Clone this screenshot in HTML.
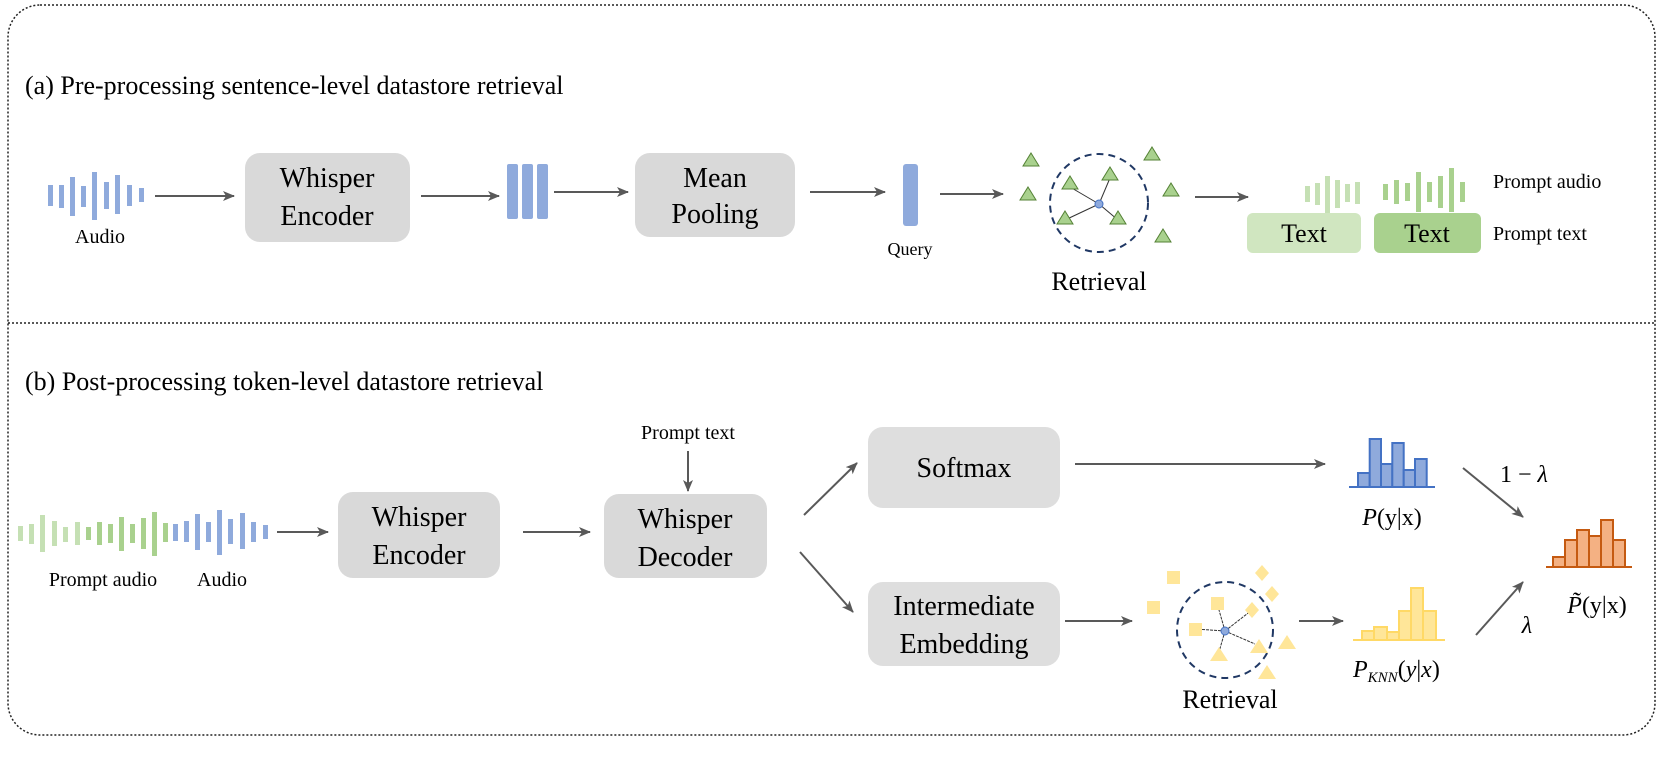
<!DOCTYPE html>
<html><head><meta charset="utf-8"><style>
html,body{margin:0;padding:0;background:#fff;}
svg{display:block;}
text{font-family:"Liberation Serif",serif;fill:#000;}
</style></head><body>
<svg width="1661" height="759" viewBox="0 0 1661 759" xmlns="http://www.w3.org/2000/svg">
<defs>
<marker id="ah" markerWidth="12" markerHeight="12" refX="11" refY="6" orient="auto" markerUnits="userSpaceOnUse">
<path d="M0,1 L12,6 L0,11 L3,6 Z" fill="#595959"/>
</marker>
</defs>
<rect x="8" y="5" width="1647" height="730" rx="32" fill="none" stroke="#222" stroke-width="1.5" stroke-dasharray="2,2"/>
<line x1="8" y1="323" x2="1655" y2="323" stroke="#222" stroke-width="1.5" stroke-dasharray="2,2"/>

<g stroke="#595959" stroke-width="2" marker-end="url(#ah)" fill="none">
<line x1="155" y1="196" x2="234" y2="196"/>
<line x1="421" y1="196" x2="499" y2="196"/>
<line x1="554" y1="192" x2="628" y2="192"/>
<line x1="810" y1="192" x2="885" y2="192"/>
<line x1="940" y1="194" x2="1003" y2="194"/>
<line x1="1195" y1="197" x2="1248" y2="197"/>
<line x1="277" y1="532" x2="328" y2="532"/>
<line x1="523" y1="532" x2="590" y2="532"/>
<line x1="688" y1="451" x2="688" y2="491"/>
<line x1="804" y1="515" x2="857" y2="463"/>
<line x1="800" y1="552" x2="853" y2="612"/>
<line x1="1075" y1="464" x2="1325" y2="464"/>
<line x1="1065" y1="621" x2="1132" y2="621"/>
<line x1="1299" y1="621" x2="1343" y2="621"/>
<line x1="1463" y1="468" x2="1523" y2="517"/>
<line x1="1476" y1="635" x2="1523" y2="582"/>
</g>

<text x="25" y="94" font-size="26">(a) Pre-processing sentence-level datastore retrieval</text>
<text x="25" y="390" font-size="26">(b) Post-processing token-level datastore retrieval</text>

<g fill="#8faadc">
<rect x="48" y="185" width="5" height="21"/>
<rect x="59" y="185" width="5" height="23"/>
<rect x="70" y="177" width="5" height="39"/>
<rect x="81" y="186" width="5" height="21"/>
<rect x="92" y="172" width="5" height="48"/>
<rect x="104" y="182" width="5" height="27"/>
<rect x="115" y="175" width="5" height="39"/>
<rect x="127" y="185" width="5" height="21"/>
<rect x="139" y="188" width="5" height="14"/>
</g>
<text x="100" y="243" font-size="20" text-anchor="middle">Audio</text>

<rect x="245" y="153" width="165" height="89" rx="15" fill="#d9d9d9"/>
<text x="327" y="187" font-size="28" text-anchor="middle">Whisper</text>
<text x="327" y="225" font-size="28" text-anchor="middle">Encoder</text>

<g fill="#8faadc">
<rect x="507" y="164" width="11" height="55" rx="2"/>
<rect x="522" y="164" width="11" height="55" rx="2"/>
<rect x="537" y="164" width="11" height="55" rx="2"/>
</g>

<rect x="635" y="153" width="160" height="84" rx="15" fill="#d9d9d9"/>
<text x="715" y="187" font-size="28" text-anchor="middle">Mean</text>
<text x="715" y="223" font-size="28" text-anchor="middle">Pooling</text>

<rect x="903" y="164" width="15" height="62" rx="3" fill="#8faadc"/>
<text x="910" y="255" font-size="18" text-anchor="middle">Query</text>

<circle cx="1099" cy="203" r="49" fill="none" stroke="#203864" stroke-width="2" stroke-dasharray="7,5"/>
<g stroke="#333" stroke-width="1">
<line x1="1099" y1="204" x2="1070" y2="187"/>
<line x1="1099" y1="204" x2="1110" y2="178"/>
<line x1="1099" y1="204" x2="1065" y2="220"/>
<line x1="1099" y1="204" x2="1118" y2="220"/>
</g>
<g fill="#a9d18e" stroke="#548235" stroke-width="1">
<path d="M1031,153 l8,13 h-16 z"/>
<path d="M1028,187 l8,13 h-16 z"/>
<path d="M1152,147 l8,13 h-16 z"/>
<path d="M1171,183 l8,13 h-16 z"/>
<path d="M1163,229 l8,13 h-16 z"/>
<path d="M1070,176 l8,13 h-16 z"/>
<path d="M1110,167 l8,13 h-16 z"/>
<path d="M1065,211 l8,13 h-16 z"/>
<path d="M1118,211 l8,13 h-16 z"/>
</g>
<circle cx="1099" cy="204" r="4" fill="#8faadc" stroke="#4472c4"/>
<text x="1099" y="290" font-size="26" text-anchor="middle">Retrieval</text>

<g fill="#c5e0b4">
<rect x="1305" y="186" width="5" height="16"/>
<rect x="1315" y="183" width="5" height="22"/>
<rect x="1325" y="176" width="5" height="38"/>
<rect x="1335" y="180" width="5" height="28"/>
<rect x="1345" y="184" width="5" height="18"/>
<rect x="1355" y="182" width="5" height="22"/>
</g>
<rect x="1247" y="213" width="114" height="40" rx="6" fill="#d0e6c0"/>
<text x="1304" y="242" font-size="26" text-anchor="middle">Text</text>
<g fill="#a9d18e">
<rect x="1383" y="184" width="5" height="16"/>
<rect x="1394" y="180" width="5" height="24"/>
<rect x="1405" y="183" width="5" height="18"/>
<rect x="1416" y="172" width="5" height="40"/>
<rect x="1427" y="182" width="5" height="20"/>
<rect x="1438" y="176" width="5" height="32"/>
<rect x="1449" y="168" width="5" height="44"/>
<rect x="1460" y="182" width="5" height="20"/>
</g>
<rect x="1374" y="213" width="107" height="40" rx="6" fill="#a9d18e"/>
<text x="1427" y="242" font-size="26" text-anchor="middle">Text</text>
<text x="1493" y="188" font-size="20">Prompt audio</text>
<text x="1493" y="240" font-size="20">Prompt text</text>

<g>
<rect x="18" y="526" width="5" height="15" fill="#c5e0b4"/>
<rect x="29" y="524" width="5" height="20" fill="#c5e0b4"/>
<rect x="40" y="515" width="5" height="37" fill="#c5e0b4"/>
<rect x="52" y="521" width="5" height="25" fill="#c5e0b4"/>
<rect x="63" y="527" width="5" height="15" fill="#c5e0b4"/>
<rect x="75" y="522" width="5" height="23" fill="#c5e0b4"/>
<rect x="86" y="527" width="5" height="13" fill="#a9d18e"/>
<rect x="97" y="522" width="5" height="23" fill="#a9d18e"/>
<rect x="108" y="524" width="5" height="19" fill="#a9d18e"/>
<rect x="119" y="517" width="5" height="34" fill="#a9d18e"/>
<rect x="130" y="524" width="5" height="19" fill="#a9d18e"/>
<rect x="141" y="518" width="5" height="31" fill="#a9d18e"/>
<rect x="152" y="512" width="5" height="44" fill="#a9d18e"/>
<rect x="163" y="523" width="5" height="19" fill="#a9d18e"/>
<rect x="173" y="524" width="5" height="17" fill="#8faadc"/>
<rect x="184" y="521" width="5" height="21" fill="#8faadc"/>
<rect x="195" y="514" width="5" height="36" fill="#8faadc"/>
<rect x="206" y="522" width="5" height="20" fill="#8faadc"/>
<rect x="217" y="510" width="5" height="45" fill="#8faadc"/>
<rect x="228" y="519" width="5" height="25" fill="#8faadc"/>
<rect x="240" y="513" width="5" height="36" fill="#8faadc"/>
<rect x="251" y="522" width="5" height="20" fill="#8faadc"/>
<rect x="263" y="525" width="5" height="14" fill="#8faadc"/>
</g>
<text x="103" y="586" font-size="20" text-anchor="middle">Prompt audio</text>
<text x="222" y="586" font-size="20" text-anchor="middle">Audio</text>

<rect x="338" y="492" width="162" height="86" rx="15" fill="#d9d9d9"/>
<text x="419" y="526" font-size="28" text-anchor="middle">Whisper</text>
<text x="419" y="564" font-size="28" text-anchor="middle">Encoder</text>

<text x="688" y="439" font-size="20" text-anchor="middle">Prompt text</text>
<rect x="604" y="494" width="163" height="84" rx="15" fill="#d9d9d9"/>
<text x="685" y="528" font-size="28" text-anchor="middle">Whisper</text>
<text x="685" y="566" font-size="28" text-anchor="middle">Decoder</text>

<rect x="868" y="427" width="192" height="81" rx="15" fill="#dedede"/>
<text x="964" y="477" font-size="28" text-anchor="middle">Softmax</text>
<rect x="868" y="582" width="192" height="84" rx="15" fill="#dedede"/>
<text x="964" y="615" font-size="28" text-anchor="middle">Intermediate</text>
<text x="964" y="653" font-size="28" text-anchor="middle">Embedding</text>

<g fill="#8faadc" stroke="#4472c4" stroke-width="2">
<rect x="1358" y="473" width="11.7" height="14"/>
<rect x="1369.7" y="439" width="11.3" height="48"/>
<rect x="1381" y="464" width="11.3" height="23"/>
<rect x="1392.3" y="443" width="11.4" height="44"/>
<rect x="1403.7" y="470" width="11.3" height="17"/>
<rect x="1415" y="459" width="11.7" height="28"/>
</g>
<line x1="1349" y1="487" x2="1435" y2="487" stroke="#4472c4" stroke-width="2"/>
<text x="1392" y="525" font-size="24" text-anchor="middle"><tspan font-style="italic">P</tspan>(y|x)</text>
<text x="1500" y="482" font-size="24">1 − <tspan font-style="italic">λ</tspan></text>

<circle cx="1225" cy="630" r="48" fill="none" stroke="#203864" stroke-width="2" stroke-dasharray="7,5"/>
<g stroke="#333" stroke-width="1" stroke-dasharray="3,1">
<line x1="1225" y1="631" x2="1217" y2="603"/>
<line x1="1225" y1="631" x2="1195" y2="629"/>
<line x1="1225" y1="631" x2="1252" y2="610"/>
<line x1="1225" y1="631" x2="1255" y2="644"/>
<line x1="1225" y1="631" x2="1219" y2="652"/>
</g>
<g fill="#ffe699">
<rect x="1167" y="571" width="13" height="13"/>
<rect x="1147" y="601" width="13" height="13"/>
<rect x="1211" y="597" width="13" height="13"/>
<rect x="1189" y="623" width="13" height="13"/>
<path d="M1262,565 l7,8 l-7,8 l-7,-8 z"/>
<path d="M1272,586 l7,8 l-7,8 l-7,-8 z"/>
<path d="M1252,602 l7,8 l-7,8 l-7,-8 z"/>
<path d="M1259,639 l9,14 h-18 z"/>
<path d="M1219,647 l9,14 h-18 z"/>
<path d="M1287,635 l9,14 h-18 z"/>
<path d="M1267,665 l9,14 h-18 z"/>
</g>
<circle cx="1225" cy="631" r="4" fill="#8faadc" stroke="#4472c4"/>
<text x="1230" y="708" font-size="26" text-anchor="middle">Retrieval</text>

<g fill="#ffe699" stroke="#ffd966" stroke-width="2">
<rect x="1362" y="631" width="12" height="9"/>
<rect x="1374" y="627" width="13" height="13"/>
<rect x="1387" y="632" width="12" height="8"/>
<rect x="1399" y="611" width="12" height="29"/>
<rect x="1411" y="588" width="12" height="52"/>
<rect x="1423" y="611" width="13" height="29"/>
</g>
<line x1="1353" y1="640" x2="1445" y2="640" stroke="#ffd966" stroke-width="2"/>
<text x="1353" y="677" font-size="24"><tspan font-style="italic">P</tspan><tspan font-size="15" font-style="italic" dy="5">KNN</tspan><tspan dy="-5">(</tspan><tspan font-style="italic">y</tspan>|<tspan font-style="italic">x</tspan>)</text>
<text x="1527" y="633" font-size="24" text-anchor="middle" font-style="italic">λ</text>

<g fill="#f4b183" stroke="#c55a11" stroke-width="2">
<rect x="1553" y="557" width="12" height="10"/>
<rect x="1565" y="540" width="12" height="27"/>
<rect x="1577" y="530" width="12" height="37"/>
<rect x="1589" y="536" width="12" height="31"/>
<rect x="1601" y="520" width="12" height="47"/>
<rect x="1613" y="540" width="12" height="27"/>
</g>
<line x1="1546" y1="567" x2="1632" y2="567" stroke="#c55a11" stroke-width="2"/>
<text x="1597" y="613" font-size="24" text-anchor="middle"><tspan font-style="italic">P̃</tspan>(y|x)</text>
</svg>
</body></html>
